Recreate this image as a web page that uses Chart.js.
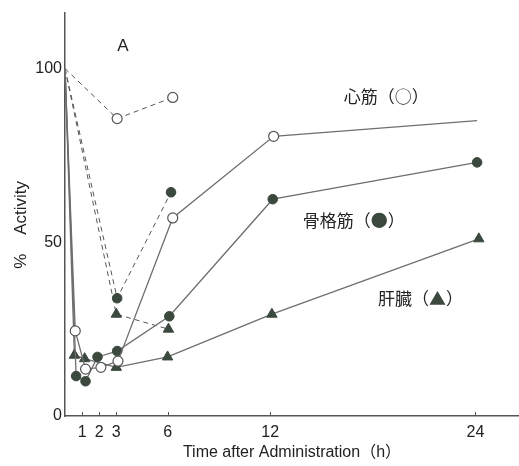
<!DOCTYPE html>
<html><head><meta charset="utf-8">
<script src="https://cdn.jsdelivr.net/npm/chart.js@4/dist/chart.umd.min.js"></script>
<style>html,body{margin:0;padding:0;background:#fff;overflow:hidden}#wrap{width:519px;height:466px}canvas{display:block}</style>
</head><body><div id="wrap"><canvas id="c" width="519" height="466"></canvas></div>
<script>
// tick labels
const xTickValues = [1, 2, 3, 6, 12, 24];
const yTickValues = [0, 50, 100];

// 心筋 (open circles) – solid and dashed series
const heartSolidX = [0, 0.6, 1.2, 2.1, 3.1, 6.3, 12.2, 24.1];
const heartSolidY = [100, 24.5, 13.5, 14, 15.8, 57, 80.5, 85];
const heartDashX = [0, 3.05, 6.3];
const heartDashY = [100, 85.6, 91.7];

// 骨格筋 (filled circles)
const skeletalSolidX = [0, 0.65, 1.2, 1.9, 3.05, 6.1, 12.15, 24.1];
const skeletalSolidY = [100, 11.5, 10, 17, 18.7, 28.7, 62.4, 73];
const skeletalDashX = [0, 3.05, 6.2];
const skeletalDashY = [100, 33.9, 64.4];

// 肝臓 (triangles)
const liverSolidX = [0, 0.55, 1.15, 3.0, 6.0, 12.1, 24.2];
const liverSolidY = [100, 17.5, 16.5, 14, 17, 29.3, 51];
const liverDashX = [0, 3.0, 6.05];
const liverDashY = [100, 29.3, 25];

// annotation labels
const labels = [
  {parts: ['心筋（', '○', '）'], x: 16.3, y: 91.9},
  {parts: ['骨格筋（', '●', '）'], x: 13.9, y: 56.3},
  {parts: ['肝臓（', '▲', '）'], x: 18.3, y: 33.9}
];
const panelLabel = {text: 'A', x: 3.39, y: 106.5};
const yTitle = '%    Activity';
const xTitle = 'Time after Administration（h）';

const LINE = '#6e6e6e';
const DARK = '#3b483e';
const pts = (xs, ys) => xs.map((x, i) => ({x: x, y: ys[i]}));
const hideFirst = (r, lastHidden) => ctx => (ctx.dataIndex === 0 || (lastHidden && ctx.dataIndex === ctx.dataset.data.length - 1)) ? 0 : r;

const ds = [
  {data: pts(heartSolidX, heartSolidY), borderColor: LINE, borderWidth: 1.3,
   pointStyle: 'circle', pointRadius: hideFirst(5, true), pointBackgroundColor: '#fff', pointBorderColor: '#555', pointBorderWidth: 1.2},
  {data: pts(heartDashX, heartDashY), borderColor: '#555', borderWidth: 1, borderDash: [5, 4],
   pointStyle: 'circle', pointRadius: hideFirst(5), pointBackgroundColor: '#fff', pointBorderColor: '#555', pointBorderWidth: 1.2},
  {data: pts(skeletalSolidX, skeletalSolidY), borderColor: LINE, borderWidth: 1.3,
   pointStyle: 'circle', pointRadius: hideFirst(4.8), pointBackgroundColor: DARK, pointBorderColor: DARK, pointBorderWidth: 1},
  {data: pts(skeletalDashX, skeletalDashY), borderColor: '#555', borderWidth: 1, borderDash: [5, 4],
   pointStyle: 'circle', pointRadius: hideFirst(4.8), pointBackgroundColor: DARK, pointBorderColor: DARK, pointBorderWidth: 1},
  {data: pts(liverSolidX, liverSolidY), borderColor: LINE, borderWidth: 1.3,
   pointStyle: 'triangle', pointRadius: hideFirst(6), pointBackgroundColor: DARK, pointBorderColor: DARK, pointBorderWidth: 1},
  {data: pts(liverDashX, liverDashY), borderColor: '#555', borderWidth: 1, borderDash: [5, 4],
   pointStyle: 'triangle', pointRadius: hideFirst(6), pointBackgroundColor: DARK, pointBorderColor: DARK, pointBorderWidth: 1}
];
ds.forEach(d => { d.showLine = true; d.tension = 0; d.fill = false; d.pointHoverRadius = d.pointRadius; d.clip = false; });

const TICKFONT = {family: "'Liberation Sans', Arial, sans-serif", size: 16};

const annot = {
  id: 'annot',
  afterDatasetsDraw(chart) {
    const c = chart.ctx, xs = chart.scales.x, ys = chart.scales.y;
    c.save();
    // inward x ticks
    c.strokeStyle = '#555'; c.lineWidth = 1;
    xTickValues.forEach(v => {
      const px = Math.round(xs.getPixelForValue(v)) + 0.5;
      c.beginPath(); c.moveTo(px, ys.bottom); c.lineTo(px, ys.bottom - 4); c.stroke();
    });
    // panel label
    c.fillStyle = '#222';
    c.font = "17px 'Liberation Sans', Arial, sans-serif";
    c.textAlign = 'center'; c.textBaseline = 'middle';
    c.fillText(panelLabel.text, xs.getPixelForValue(panelLabel.x), ys.getPixelForValue(panelLabel.y));
    // y title (rotated)
    c.save();
    c.translate(21, ys.getPixelForValue(55));
    c.rotate(-Math.PI / 2);
    c.font = "17px 'Liberation Sans', Arial, sans-serif";
    c.fillText(yTitle, 0, 0);
    c.restore();
    // series labels
    c.font = "17px 'Noto Sans CJK JP', sans-serif";
    c.textAlign = 'left';
    labels.forEach(l => {
      let px = xs.getPixelForValue(l.x);
      const py = ys.getPixelForValue(l.y);
      l.parts.forEach((p, i) => {
        c.fillStyle = i === 1 && p !== '○' ? DARK : '#222';
        c.fillText(p, px, py);
        px += c.measureText(p).width;
      });
    });
    c.restore();
  }
};

new Chart(document.getElementById('c'), {
  type: 'scatter',
  data: {datasets: ds},
  options: {
    responsive: false, animation: false, devicePixelRatio: 1,
    layout: {autoPadding: false, padding: {top: 13, right: 0, left: 0, bottom: 0}},
    plugins: {legend: {display: false}, tooltip: {enabled: false}},
    scales: {
      x: {
        type: 'linear', min: 0, max: 26.55,
        afterBuildTicks: s => { s.ticks = xTickValues.map(v => ({value: v})); },
        afterFit: s => { s.height = 50; s.paddingLeft = 0; s.paddingRight = 0; },
        grid: {display: true, drawOnChartArea: false, drawTicks: false},
        border: {display: true, color: '#555', width: 1.5},
        ticks: {color: '#222', font: TICKFONT, padding: 7, maxRotation: 0, autoSkip: false},
        title: {display: true, text: xTitle, color: '#222',
                font: {family: "'Liberation Sans', 'Noto Sans CJK JP', sans-serif", size: 16},
                padding: {top: 0, bottom: 4}}
      },
      y: {
        type: 'linear', min: 0, max: 116,
        afterBuildTicks: s => { s.ticks = yTickValues.map(v => ({value: v})); },
        afterFit: s => { s.width = 65; },
        grid: {display: true, drawOnChartArea: false, drawTicks: false},
        border: {display: true, color: '#555', width: 1.5},
        ticks: {color: '#222', font: TICKFONT, padding: 3},
        title: {display: false}
      }
    }
  },
  plugins: [annot]
});
</script></body></html>
